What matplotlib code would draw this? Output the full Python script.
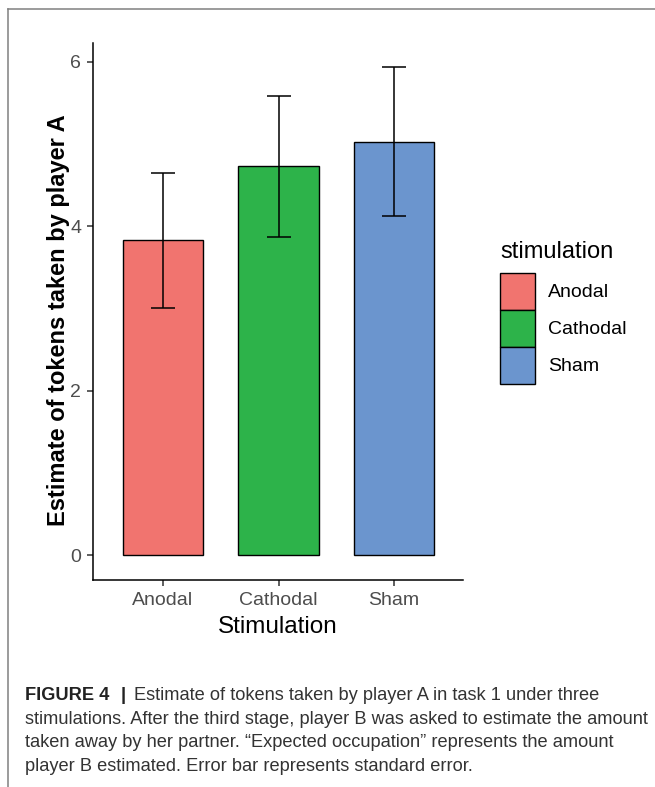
#!/usr/bin/env python3

# Bar chart of estimated tokens taken by player A, per stimulation type,
# with standard error bars and a caption underneath.

import numpy as np
import matplotlib as mpl
import matplotlib.pyplot as plt
from matplotlib.patches import Patch
from matplotlib.lines import Line2D

plt.rcParams['font.family'] = ['Liberation Sans', 'DejaVu Sans']

# Data
groups = ["Anodal", "Cathodal", "Sham"]
means = [3.83, 4.73, 5.03]
err_low = [3.01, 3.87, 4.13]
err_high = [4.65, 5.59, 5.94]
colors = ["#F1746F", "#2DB34A", "#6B95CE"]
yticks = [0, 2, 4, 6]

caption_head = "FIGURE 4"
caption_lines = [
    "Estimate of tokens taken by player A in task 1 under three",
    "stimulations. After the third stage, player B was asked to estimate the amount",
    "taken away by her partner. \u201cExpected occupation\u201d represents the amount",
    "player B estimated. Error bar represents standard error.",
]

W, H = 655, 787
fig = plt.figure(figsize=(W / 100, H / 100), dpi=100)

def fx(px):
    return px / W

def fy(py):
    return 1 - py / H

# panel: left spine x=93..463, y 43..580
ax = fig.add_axes([fx(93), fy(580), fx(463) - fx(93), fy(43) - fy(580)])

x = np.arange(len(groups))
means = np.array(means)
yerr = np.array([means - np.array(err_low), np.array(err_high) - means])

ax.bar(x, means, width=0.7, color=colors, edgecolor="black", linewidth=1.0, zorder=2)
ax.errorbar(x, means, yerr=yerr, fmt="none", ecolor="black", elinewidth=1.1,
            capsize=8.3, capthick=1.1, zorder=3)

ax.set_xlim(-0.606, 2.597)
ax.set_ylim(-0.30, 6.23)
ax.set_xticks(x)
ax.set_xticklabels(groups)
ax.set_yticks(yticks)

for s in ["top", "right"]:
    ax.spines[s].set_visible(False)
for s in ["left", "bottom"]:
    ax.spines[s].set_linewidth(1.1)
    ax.spines[s].set_color("black")

ax.tick_params(axis="both", length=4, width=1.1, color="#333333",
               labelsize=14, labelcolor="#4D4D4D", pad=4.5)

ax.set_xlabel("Stimulation", fontsize=17.5, color="black", labelpad=5.5)
fig.text(fx(59), fy(320), "Estimate of tokens taken by player A", rotation=90,
         ha="center", va="center", fontsize=17, fontweight="bold", color="black")

# legend
handles = [Patch(facecolor=c, edgecolor="black", linewidth=1.0, label=g)
           for g, c in zip(groups, colors)]
ax.legend(handles=handles, loc="upper left", bbox_to_anchor=(fx(500), fy(273)),
          bbox_transform=fig.transFigure, frameon=False, fontsize=14,
          handlelength=1.8, handleheight=2.55, labelspacing=0.0,
          handletextpad=0.65, borderpad=0, borderaxespad=0)
fig.text(fx(500), fy(258), "stimulation", fontsize=17, ha="left", va="baseline",
         color="black")

# figure frame (top and left)
fig.add_artist(Line2D([fx(8), 1.0], [fy(9), fy(9)], color="#808080", linewidth=1.1,
                      transform=fig.transFigure))
fig.add_artist(Line2D([fx(8), fx(8)], [fy(9), 0.0], color="#808080", linewidth=1.1,
                      transform=fig.transFigure))

# caption
cap_size = 13.15
baselines = [700, 724, 747, 771]
head = fig.text(fx(25), fy(baselines[0]), caption_head, fontsize=cap_size,
                fontweight="bold", color="#222222", ha="left", va="baseline")
fig.canvas.draw()
bb = head.get_window_extent()
bar_t = fig.text(fx(bb.x1 + 11), fy(baselines[0]), "|", fontsize=cap_size,
                 fontweight="bold", color="#222222", ha="left", va="baseline")
fig.canvas.draw()
bb2 = bar_t.get_window_extent()
fig.text(fx(bb2.x1 + 8), fy(baselines[0]), caption_lines[0], fontsize=cap_size,
         color="#333333", ha="left", va="baseline")
for line, b in zip(caption_lines[1:], baselines[1:]):
    fig.text(fx(25), fy(b), line, fontsize=cap_size, color="#333333",
             ha="left", va="baseline")

fig.savefig("out.png", dpi=100)
